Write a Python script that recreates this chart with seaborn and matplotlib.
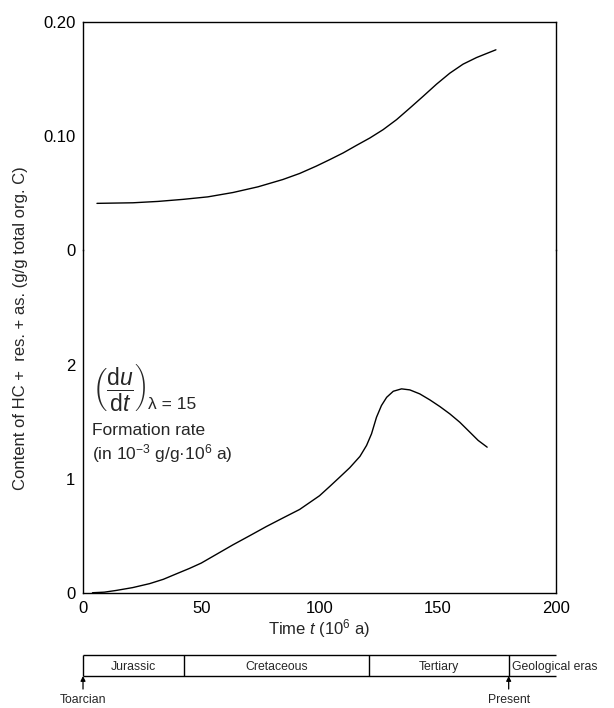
import numpy as np
import matplotlib
matplotlib.use('Agg')
import matplotlib.pyplot as plt
import seaborn as sns

# upper curve: content of HC + res. + as. (g/g total org. C)
t_content = [5.9, 21.1, 31.7, 42.3, 52.8, 63.4, 74.0, 84.5, 91.6, 98.6, 104.4,
             110.0, 115.7, 121.3, 126.9, 132.6, 138.2, 143.8, 149.5, 155.1,
             160.7, 166.4, 170.6, 174.6]
content = [0.0413, 0.0418, 0.0430, 0.0448, 0.0470, 0.0508, 0.0558, 0.0622, 0.0675,
           0.0739, 0.0797, 0.0855, 0.0922, 0.0986, 0.1059, 0.1147, 0.1248, 0.1351,
           0.1458, 0.1554, 0.1633, 0.1691, 0.1726, 0.1759]

# lower curve: formation rate (du/dt), lambda = 15
t_rate = [4.0, 9.0, 14.0, 21.0, 28.2, 34.0, 39.4, 45.0, 50.0, 56.7, 63.4, 70.5,
          77.5, 84.5, 91.6, 100.0, 104.4, 108.6, 112.8, 117.1, 119.9, 122.0,
          124.1, 126.2, 128.4, 131.2, 134.7, 138.2, 142.4, 146.7, 150.9, 155.1,
          159.3, 163.6, 167.1, 170.9]
rate = [0.0, 0.005, 0.02, 0.045, 0.08, 0.118, 0.165, 0.213, 0.26, 0.34, 0.42, 0.50,
        0.58, 0.655, 0.73, 0.85, 0.933, 1.014, 1.096, 1.195, 1.291, 1.393,
        1.538, 1.641, 1.713, 1.766, 1.787, 1.778, 1.743, 1.690, 1.632, 1.568,
        1.495, 1.407, 1.335, 1.276]

# geological eras (boundaries in 10^6 a from Toarcian)
era_names = ['Jurassic', 'Cretaceous', 'Tertiary']
era_bounds = [0, 42.8, 120.9, 180]

sns.set_style('white')
plt.rcParams['font.family'] = ['Liberation Sans', 'DejaVu Sans']
plt.rcParams['mathtext.fontset'] = 'custom'
plt.rcParams['mathtext.rm'] = 'Liberation Sans'
plt.rcParams['mathtext.it'] = 'Liberation Sans:italic'
plt.rcParams['mathtext.bf'] = 'Liberation Sans:bold'

fig = plt.figure(figsize=(6.14, 7.08), dpi=100)

left, width = 0.1352, 0.7703
bottom, total_h = 0.1628, 0.8057
ax_lo = fig.add_axes([left, bottom, width, total_h * 3 / 5])
ax_hi = fig.add_axes([left, bottom + total_h * 3 / 5, width, total_h * 2 / 5])

sns.lineplot(x=t_rate, y=rate, ax=ax_lo, color='black', lw=1.0)
sns.lineplot(x=t_content, y=content, ax=ax_hi, color='black', lw=1.0)

for ax in (ax_lo, ax_hi):
    ax.set_xlim(0, 200)
    for sp in ax.spines.values():
        sp.set_color('black')
        sp.set_linewidth(1.0)
    ax.tick_params(axis='y', direction='out', length=3.5, width=1.0,
                   labelsize=12, colors='black', pad=2)

ax_lo.set_ylim(0, 3)
ax_lo.set_yticks([0, 1, 2])
ax_lo.set_yticklabels(['0', '1', '2'])
ax_lo.spines['top'].set_visible(False)
ax_lo.set_xticks([0, 50, 100, 150, 200])
ax_lo.tick_params(axis='x', direction='in', length=5, width=1.0,
                  labelsize=12, colors='black', pad=6)

ax_hi.set_ylim(0, 0.20)
ax_hi.set_yticks([0, 0.10, 0.20])
ax_hi.set_yticklabels(['0', '0.10', '0.20'])
ax_hi.spines['bottom'].set_visible(False)
ax_hi.set_xticks([])
ax_hi.patch.set_alpha(0)

ax_lo.set_xlabel(r'Time $t$ (10$^6$ a)', fontsize=12, labelpad=1)
fig.text(0.034, 0.537, 'Content of HC +  res. + as. (g/g total org. C)',
         rotation=90, ha='center', va='center', fontsize=12)

# annotation for formation rate
ax_lo.text(3.6, 1.79, r'$\left(\dfrac{\mathrm{d}u}{\mathrm{d}t}\right)$',
           fontsize=16.5, ha='left', va='center')
ax_lo.text(27.5, 1.65, '\u03bb = 15', fontsize=12.5, ha='left', va='center')
ax_lo.text(4.0, 1.42, 'Formation rate', fontsize=12.5, ha='left', va='center')
ax_lo.text(4.0, 1.22, '(in 10$^{\\mathrm{-3}}$ g/g·10$^6$ a)', fontsize=12.5,
           ha='left', va='center')

# geological time bar
ax_bar = fig.add_axes([left, 1 - 676 / 708, width, 21 / 708])
ax_bar.set_xlim(0, 200)
ax_bar.set_ylim(0, 1)
ax_bar.axis('off')
ax_bar.hlines([0, 1], 0, 200, color='black', lw=1.0, clip_on=False)
ax_bar.vlines(era_bounds, 0, 1, color='black', lw=1.0, clip_on=False)
for name, a, b in zip(era_names, era_bounds[:-1], era_bounds[1:]):
    ax_bar.text((a + b) / 2, 0.27, name, ha='center', va='baseline', fontsize=8.8)
ax_bar.text(era_bounds[-1] + 1.5, 0.27, 'Geological eras', ha='left',
            va='baseline', fontsize=8.8, clip_on=False)
for pos, lab in [(era_bounds[0], 'Toarcian'), (era_bounds[-1], 'Present')]:
    ax_bar.annotate('', xy=(pos, 0), xytext=(pos, -0.62),
                    arrowprops=dict(arrowstyle='-|>', color='black', lw=0.9,
                                    mutation_scale=7, shrinkA=0, shrinkB=0),
                    annotation_clip=False)
    ax_bar.text(pos, -1.15, lab, ha='center', va='center', fontsize=8.8)

fig.savefig('out.png', dpi=100)
